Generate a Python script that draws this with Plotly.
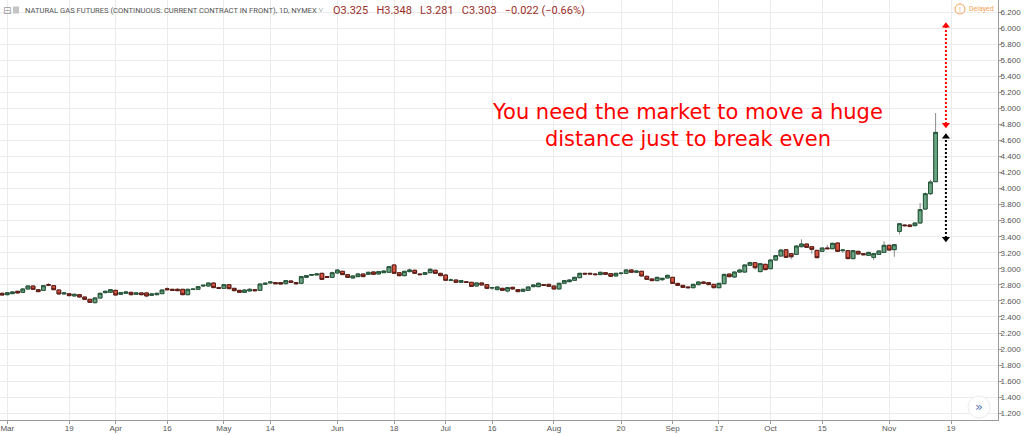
import plotly.graph_objects as go
import pandas as pd

# ---------------- data ----------------
holidays = ["2018-03-30", "2018-05-28", "2018-07-04", "2018-09-03"]
first_date = "2018-02-28"

open_ = [2.695, 2.678, 2.691, 2.720, 2.707, 2.749, 2.786, 2.740, 2.732, 2.803,
         2.790, 2.736, 2.687, 2.690, 2.662, 2.678, 2.649, 2.620, 2.579, 2.637,
         2.703, 2.707, 2.732, 2.683, 2.695, 2.707, 2.683, 2.700, 2.700, 2.670,
         2.678, 2.691, 2.753, 2.745, 2.745, 2.745, 2.678, 2.743, 2.745, 2.786,
         2.786, 2.823, 2.766, 2.757, 2.803, 2.757, 2.732, 2.707, 2.724, 2.740,
         2.732, 2.807, 2.824, 2.828, 2.828, 2.815, 2.849, 2.828, 2.820, 2.894,
         2.920, 2.924, 2.944, 2.903, 2.894, 2.948, 2.969, 2.928, 2.886, 2.903,
         2.936, 2.932, 2.961, 2.936, 2.952, 2.957, 3.048, 2.952, 2.915, 2.965,
         2.982, 2.936, 2.932, 2.952, 2.982, 2.944, 2.923, 2.857, 2.861, 2.832,
         2.840, 2.832, 2.786, 2.824, 2.803, 2.761, 2.741, 2.757, 2.724, 2.770,
         2.741, 2.720, 2.732, 2.778, 2.778, 2.803, 2.807, 2.786, 2.749, 2.820,
         2.840, 2.857, 2.890, 2.944, 2.944, 2.936, 2.928, 2.952, 2.940, 2.911,
         2.942, 2.944, 2.986, 2.957, 2.969, 2.907, 2.874, 2.853, 2.865, 2.886,
         2.894, 2.819, 2.794, 2.774, 2.765, 2.803, 2.836, 2.828, 2.807, 2.765,
         2.815, 2.935, 2.898, 2.960, 2.960, 3.044, 3.077, 2.965, 3.056, 3.002,
         3.110, 3.160, 3.238, 3.189, 3.180, 3.276, 3.309, 3.276, 3.230, 3.218,
         3.260, 3.251, 3.322, 3.226, 3.226, 3.127, 3.218, 3.189, 3.168, 3.143,
         3.180, 3.205, 3.293, 3.239, 3.467, 3.546, 3.546, 3.538, 3.571, 3.745,
         3.936, 4.086]

high = [2.705, 2.712, 2.722, 2.728, 2.756, 2.795, 2.792, 2.748, 2.799, 2.822,
        2.796, 2.742, 2.712, 2.698, 2.690, 2.686, 2.655, 2.627, 2.645, 2.702,
        2.728, 2.750, 2.740, 2.712, 2.725, 2.715, 2.708, 2.706, 2.706, 2.695,
        2.703, 2.743, 2.770, 2.752, 2.760, 2.750, 2.752, 2.753, 2.785, 2.802,
        2.830, 2.830, 2.778, 2.810, 2.808, 2.763, 2.738, 2.744, 2.760, 2.747,
        2.818, 2.828, 2.844, 2.835, 2.834, 2.860, 2.856, 2.834, 2.910, 2.922,
        2.935, 2.944, 2.950, 2.910, 2.966, 2.992, 2.975, 2.934, 2.918, 2.950,
        2.942, 2.963, 2.968, 2.972, 2.980, 3.034, 3.055, 2.958, 2.976, 3.005,
        2.990, 2.942, 2.960, 3.012, 2.990, 2.950, 2.930, 2.880, 2.868, 2.860,
        2.846, 2.838, 2.830, 2.830, 2.810, 2.772, 2.780, 2.763, 2.772, 2.776,
        2.747, 2.752, 2.780, 2.806, 2.827, 2.810, 2.813, 2.792, 2.827, 2.860,
        2.868, 2.900, 2.950, 2.950, 2.952, 2.942, 2.964, 2.958, 2.946, 2.950,
        2.954, 2.992, 2.992, 2.980, 2.975, 2.913, 2.880, 2.900, 2.888, 2.926,
        2.900, 2.825, 2.800, 2.780, 2.814, 2.843, 2.850, 2.834, 2.813, 2.826,
        2.938, 2.942, 2.967, 3.000, 3.055, 3.090, 3.084, 3.071, 3.063, 3.117,
        3.171, 3.241, 3.245, 3.196, 3.291, 3.368, 3.316, 3.283, 3.237, 3.266,
        3.300, 3.325, 3.329, 3.241, 3.233, 3.233, 3.225, 3.196, 3.212, 3.196,
        3.229, 3.345, 3.300, 3.308, 3.569, 3.555, 3.555, 3.578, 3.820, 3.950,
        4.110, 4.941]

low = [2.665, 2.668, 2.684, 2.692, 2.700, 2.741, 2.738, 2.710, 2.725, 2.790,
       2.733, 2.680, 2.680, 2.658, 2.655, 2.642, 2.612, 2.575, 2.568, 2.630,
       2.695, 2.700, 2.668, 2.676, 2.688, 2.670, 2.675, 2.671, 2.648, 2.662,
       2.670, 2.684, 2.735, 2.725, 2.722, 2.672, 2.672, 2.737, 2.738, 2.779,
       2.780, 2.760, 2.748, 2.750, 2.746, 2.720, 2.700, 2.700, 2.717, 2.720,
       2.726, 2.800, 2.816, 2.808, 2.803, 2.808, 2.825, 2.800, 2.813, 2.888,
       2.913, 2.918, 2.862, 2.886, 2.888, 2.940, 2.922, 2.886, 2.878, 2.896,
       2.896, 2.925, 2.926, 2.930, 2.946, 2.950, 2.936, 2.905, 2.908, 2.958,
       2.938, 2.920, 2.926, 2.946, 2.938, 2.908, 2.850, 2.850, 2.826, 2.826,
       2.826, 2.776, 2.780, 2.792, 2.750, 2.740, 2.735, 2.726, 2.705, 2.742,
       2.710, 2.714, 2.726, 2.772, 2.772, 2.789, 2.776, 2.742, 2.742, 2.814,
       2.834, 2.850, 2.884, 2.930, 2.930, 2.920, 2.922, 2.926, 2.900, 2.904,
       2.920, 2.938, 2.950, 2.950, 2.905, 2.862, 2.846, 2.846, 2.850, 2.880,
       2.812, 2.788, 2.762, 2.758, 2.758, 2.796, 2.814, 2.796, 2.758, 2.758,
       2.808, 2.895, 2.890, 2.953, 2.953, 3.037, 2.990, 2.958, 2.983, 2.995,
       3.103, 3.153, 3.136, 3.120, 3.173, 3.269, 3.261, 3.190, 3.132, 3.211,
       3.244, 3.244, 3.211, 3.200, 3.120, 3.120, 3.178, 3.169, 3.161, 3.110,
       3.173, 3.198, 3.227, 3.150, 3.430, 3.525, 3.515, 3.531, 3.564, 3.738,
       3.920, 4.080]

close = [2.674, 2.703, 2.712, 2.700, 2.749, 2.786, 2.745, 2.716, 2.790, 2.797,
         2.740, 2.687, 2.700, 2.666, 2.683, 2.649, 2.620, 2.583, 2.637, 2.695,
         2.720, 2.740, 2.674, 2.703, 2.712, 2.678, 2.700, 2.678, 2.662, 2.687,
         2.695, 2.736, 2.740, 2.732, 2.728, 2.678, 2.745, 2.747, 2.778, 2.795,
         2.823, 2.766, 2.757, 2.803, 2.753, 2.728, 2.707, 2.736, 2.745, 2.728,
         2.811, 2.820, 2.836, 2.815, 2.811, 2.853, 2.832, 2.815, 2.903, 2.915,
         2.928, 2.936, 2.869, 2.894, 2.952, 2.985, 2.928, 2.894, 2.911, 2.936,
         2.903, 2.957, 2.932, 2.965, 2.973, 3.027, 2.944, 2.915, 2.969, 2.986,
         2.944, 2.928, 2.952, 2.994, 2.944, 2.915, 2.857, 2.861, 2.832, 2.853,
         2.832, 2.782, 2.824, 2.799, 2.757, 2.766, 2.774, 2.732, 2.766, 2.749,
         2.716, 2.745, 2.774, 2.799, 2.820, 2.795, 2.782, 2.749, 2.820, 2.853,
         2.861, 2.894, 2.944, 2.936, 2.936, 2.928, 2.957, 2.932, 2.907, 2.944,
         2.946, 2.986, 2.957, 2.973, 2.911, 2.869, 2.853, 2.894, 2.882, 2.919,
         2.819, 2.794, 2.769, 2.765, 2.807, 2.836, 2.820, 2.803, 2.765, 2.819,
         2.931, 2.902, 2.960, 2.985, 3.048, 3.077, 3.014, 3.064, 2.990, 3.110,
         3.164, 3.234, 3.143, 3.151, 3.284, 3.309, 3.268, 3.243, 3.139, 3.259,
         3.251, 3.318, 3.218, 3.234, 3.127, 3.226, 3.185, 3.176, 3.205, 3.189,
         3.222, 3.293, 3.234, 3.301, 3.562, 3.538, 3.529, 3.571, 3.737, 3.936,
         4.082, 4.700]

tick_dates = ["2018-03-01", "2018-03-19", "2018-04-02", "2018-04-16", "2018-05-01",
              "2018-05-14", "2018-06-01", "2018-06-18", "2018-07-02", "2018-07-16",
              "2018-08-01", "2018-08-20", "2018-09-04", "2018-09-17", "2018-10-01",
              "2018-10-15", "2018-11-01", "2018-11-19"]
tick_labels = ["Mar", "19", "Apr", "16", "May", "14", "Jun", "18", "Jul", "16",
               "Aug", "20", "Sep", "17", "Oct", "15", "Nov", "19"]
y_ticks = [1.2, 1.4, 1.6, 1.8, 2.0, 2.2, 2.4, 2.6, 2.8, 3.0, 3.2, 3.4, 3.6,
           3.8, 4.0, 4.2, 4.4, 4.6, 4.8, 5.0, 5.2, 5.4, 5.6, 5.8, 6.0, 6.2]

arrow_date = "2018-11-16"
red_arrow = [4.765, 6.06]
black_arrow = [3.345, 4.675]

title_text = "NATURAL GAS FUTURES (CONTINUOUS: CURRENT CONTRACT IN FRONT), 1D, NYMEX \u02c5"
ohlc_items = ["O3.325", "H3.348", "L3.281", "C3.303", "\u22120.022 (\u22120.66%)"]
note_text = "You need the market to move a huge<br>distance just to break even"

# ---------------- positions on a trading-day axis ----------------
cal = pd.bdate_range(first_date, "2018-11-30", freq="C", holidays=holidays)
pos = {d.strftime("%Y-%m-%d"): k - 1 for k, d in enumerate(cal)}
x = [pos[d.strftime("%Y-%m-%d")] for d in cal[:len(open_)]]
tick_vals = [pos[d] for d in tick_dates]
ax = pos[arrow_date]

body_hi = [max(o, c) for o, c in zip(open_, close)]
body_lo = [min(o, c) for o, c in zip(open_, close)]

UP, DN = "#6ba583", "#d75442"

fig = go.Figure()
# wicks (grey)
fig.add_trace(go.Candlestick(
    x=x, open=open_, high=high, low=low, close=close,
    increasing=dict(line=dict(color="#8a8a8c", width=1), fillcolor=UP),
    decreasing=dict(line=dict(color="#8a8a8c", width=1), fillcolor=DN),
    whiskerwidth=0, showlegend=False, hoverinfo="skip"))
# bodies with dark borders
fig.add_trace(go.Candlestick(
    x=x, open=open_, high=body_hi, low=body_lo, close=close,
    increasing=dict(line=dict(color="#225437", width=1), fillcolor=UP),
    decreasing=dict(line=dict(color="#5b1a13", width=1), fillcolor=DN),
    whiskerwidth=0, showlegend=False, hoverinfo="skip"))

# dotted arrows
for vals, col in ((red_arrow, "#ff0000"), (black_arrow, "#000000")):
    fig.add_trace(go.Scatter(x=[ax, ax], y=[vals[0] + 0.04, vals[1] - 0.04], mode="lines",
                             line=dict(color=col, width=2, dash="2px,2px"),
                             showlegend=False, hoverinfo="skip"))
    fig.add_trace(go.Scatter(x=[ax, ax], y=[vals[1] - 0.03, vals[0] + 0.03], mode="markers",
                             marker=dict(symbol=["triangle-up", "triangle-down"], size=7,
                                         color=col, line=dict(width=0)),
                             showlegend=False, hoverinfo="skip"))

W, H = 998.0, 420.0


def px_x(v):
    return v / W


def px_y(v):
    return 1 - v / H


ann = []
ann.append(dict(text=note_text, x=px_x(687), y=px_y(125), xref="paper", yref="paper",
                showarrow=False, xanchor="center", yanchor="middle", align="center",
                font=dict(family="DejaVu Sans", size=21, color="#ff0000")))
ann.append(dict(text="\u229f", x=px_x(1), y=px_y(10), xref="paper", yref="paper",
                showarrow=False, xanchor="left", yanchor="middle",
                font=dict(family="DejaVu Sans", size=10, color="#9a9a9a")))
ann.append(dict(text=title_text, x=px_x(23), y=px_y(10), xref="paper", yref="paper",
                showarrow=False, xanchor="left", yanchor="middle",
                font=dict(family="Roboto", size=7.6, color="#555555")))
ann.append(dict(text="\u00a0\u00a0\u00a0".join(ohlc_items), x=px_x(331), y=px_y(10),
                xref="paper", yref="paper",
                showarrow=False, xanchor="left", yanchor="middle",
                font=dict(family="Roboto", size=11, color="#9b2f2a")))
ann.append(dict(text="!", x=px_x(960), y=px_y(9), xref="paper", yref="paper",
                showarrow=False, xanchor="center", yanchor="middle",
                font=dict(family="Liberation Sans", size=7, color="#f5a055")))
ann.append(dict(text="Delayed", x=px_x(966.5), y=px_y(9), xref="paper", yref="paper",
                showarrow=False, xanchor="left", yanchor="middle",
                font=dict(family="Roboto", size=7, color="#f5a055")))
ann.append(dict(text="\u00bb", x=px_x(979), y=px_y(406), xref="paper", yref="paper",
                showarrow=False, xanchor="center", yanchor="middle",
                font=dict(family="DejaVu Sans", size=13, color="#5a7ab0")))

shapes = [
    dict(type="rect", xref="paper", yref="paper", x0=px_x(13), x1=px_x(19),
         y0=px_y(13.5), y1=px_y(6.5), fillcolor="#c4c4c4", line=dict(width=0)),
    dict(type="circle", xref="paper", yref="paper", x0=px_x(955), x1=px_x(965),
         y0=px_y(14), y1=px_y(4), line=dict(color="#f5a055", width=1)),
    dict(type="circle", xref="paper", yref="paper", x0=px_x(968), x1=px_x(990),
         y0=px_y(418), y1=px_y(396), fillcolor="white", line=dict(color="#ececec", width=1)),
]

fig.update_layout(
    width=1024, height=435,
    margin=dict(l=0, r=26, t=0, b=15, pad=0),
    paper_bgcolor="white", plot_bgcolor="white",
    boxgap=0.15, boxgroupgap=0.15,
    annotations=ann, shapes=shapes,
    xaxis=dict(range=[-1.415, 192.1], tickmode="array", tickvals=tick_vals, ticktext=tick_labels,
               showgrid=True, gridcolor="#ebebeb", gridwidth=1, zeroline=False,
               showline=True, linecolor="#9b9b9b", linewidth=1,
               ticks="outside", ticklen=3, tickcolor="#9b9b9b", ticklabelstandoff=-3,
               tickfont=dict(family="Liberation Sans", size=8, color="#555555"),
               rangeslider=dict(visible=False), fixedrange=True),
    yaxis=dict(side="right", range=[1.1166, 6.3495], tickmode="array", tickvals=y_ticks,
               ticktext=[f"{v:.3f}" for v in y_ticks],
               showgrid=True, gridcolor="#ebebeb", gridwidth=1, zeroline=False,
               showline=True, linecolor="#9b9b9b", linewidth=1,
               ticks="outside", ticklen=3, tickcolor="#9b9b9b", ticklabelstandoff=-3,
               tickfont=dict(family="Liberation Sans", size=8, color="#555555"),
               fixedrange=True),
)

fig.write_html("out.html", config={"displayModeBar": False},
               post_script="document.body.style.margin='0px';document.body.style.overflow='hidden';")
